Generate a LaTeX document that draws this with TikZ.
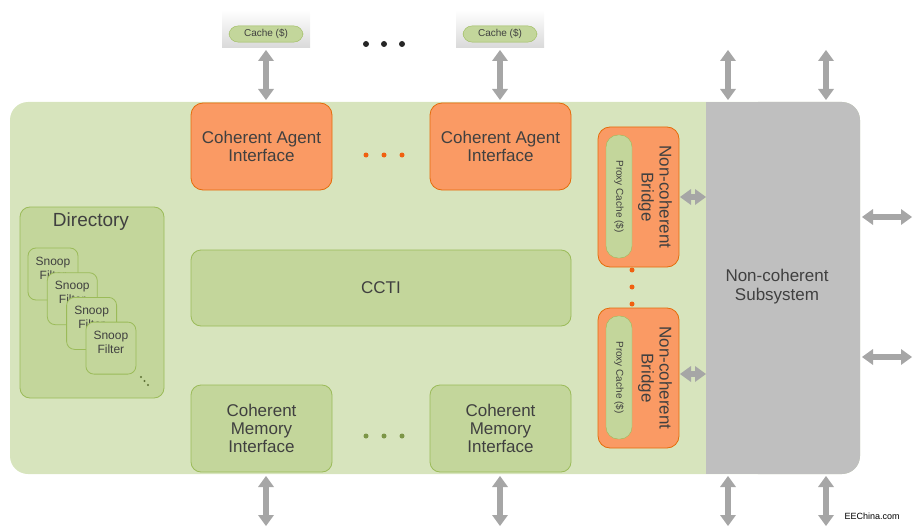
\documentclass[tikz,border=0pt]{standalone}
\usepackage{fontspec}
\setmainfont{Liberation Sans}
\usetikzlibrary{arrows.meta}
\definecolor{PaleGreen}{HTML}{D7E4BD}
\definecolor{BoxGreen}{HTML}{C3D69B}
\definecolor{EdgeGreen}{HTML}{9BBB59}
\definecolor{BoxOrange}{HTML}{FA9A64}
\definecolor{EdgeOrange}{HTML}{E46C0A}
\definecolor{DotOrange}{HTML}{F06010}
\definecolor{SubGray}{HTML}{BFBFBF}
\definecolor{ArrGray}{HTML}{A6A6A6}
\definecolor{TextGray}{HTML}{404040}
\tikzset{
  greenbox/.style={draw=EdgeGreen,fill=BoxGreen,rounded corners=10pt,thick,text=TextGray,align=center,font=\fontsize{17}{18}\selectfont},
  orangebox/.style={draw=EdgeOrange,fill=BoxOrange,rounded corners=12pt,thick,text=TextGray,align=center,font=\fontsize{17}{18}\selectfont},
  pill/.style={draw=EdgeGreen,fill=BoxGreen,rounded corners=9pt,text=TextGray,font=\fontsize{10}{11}\selectfont},
  dbl/.style={draw=none,fill=ArrGray},
}
\newcommand{\vdbl}[3]{% x, y1, y2
  \fill[ArrGray] (#1-3,#2+9) rectangle (#1+3,#3-9);
  \fill[ArrGray] (#1,#2) -- (#1+8,#2+11) -- (#1-8,#2+11) -- cycle;
  \fill[ArrGray] (#1,#3) -- (#1+8,#3-11) -- (#1-8,#3-11) -- cycle;}
\newcommand{\hdbl}[3]{% y, x1, x2
  \fill[ArrGray] (#2+9,#1-3) rectangle (#3-9,#1+3);
  \fill[ArrGray] (#2,#1) -- (#2+11,#1+8) -- (#2+11,#1-8) -- cycle;
  \fill[ArrGray] (#3,#1) -- (#3-11,#1+8) -- (#3-11,#1-8) -- cycle;}
\begin{document}
\begin{tikzpicture}[x=1pt,y=-1pt]
  \useasboundingbox (0,0) rectangle (915,532);

  % background and subsystem
  \fill[PaleGreen,rounded corners=18pt] (10,102) rectangle (860,474);
  \fill[SubGray,rounded corners=18pt] (740,102) rectangle (860,474);
  \fill[SubGray] (706,102) rectangle (760,474);
  \node[text=TextGray,align=center,font=\fontsize{17}{19}\selectfont] (sub) at (777,287) {Non-coherent\\Subsystem};

  % caches
  \foreach \cx/\nm in {266/ca,500/cb}{%
    \shade[top color=white,bottom color=SubGray!60] (\cx-44,10) rectangle (\cx+44,48);
    \node[pill,minimum width=74pt,minimum height=16pt] (\nm) at (\cx,34) {Cache (\$)};
  }
  \foreach \dx in {366,384,402}{\fill[black!85] (\dx,44) circle (3);}

  % arrows
  \foreach \ax in {266,500,728,826}{%
    \vdbl{\ax}{50}{100}
    \vdbl{\ax}{476}{526}
  }
  \foreach \ay in {217,357}{\hdbl{\ay}{862}{912}}
  \foreach \ay in {197,374}{\hdbl{\ay}{680}{706}}

  % agent and memory interfaces
  \node[orangebox,minimum width=141pt,minimum height=87pt] (cai1) at (261.5,146.5) {Coherent Agent\\Interface};
  \node[orangebox,minimum width=141pt,minimum height=87pt] (cai2) at (500.5,146.5) {Coherent Agent\\Interface};
  \node[greenbox,minimum width=380pt,minimum height=76pt] (ccti) at (381,288) {CCTI};
  \node[greenbox,minimum width=141pt,minimum height=87pt] (cmi1) at (261.5,428.5) {Coherent\\Memory\\Interface};
  \node[greenbox,minimum width=141pt,minimum height=87pt] (cmi2) at (500.5,428.5) {Coherent\\Memory\\Interface};
  \foreach \dx in {366,384,402}{%
    \fill[DotOrange] (\dx,155) circle (2.5);
    \fill[EdgeGreen!80!black] (\dx,436) circle (2.5);
  }

  % directory
  \node[greenbox,minimum width=144pt,minimum height=191pt] (dir) at (92,302.5) {};
  \node[text=TextGray,font=\fontsize{19}{20}\selectfont] (dirt) at (91,222) {Directory};
  \foreach \i in {0,1,2,3}{%
    \node[greenbox,rounded corners=8pt,minimum width=50pt,minimum height=52pt,text depth=12pt,
      font=\fontsize{12}{14}\selectfont,inner sep=1pt] (sf\i) at (53+19.3*\i,274+24.7*\i) {Snoop\\Filter};
  }
  \foreach \j in {0,1,2}{\fill[EdgeGreen!60!black] (141+3.5*\j,377+4*\j) circle (1.2);}

  % bridges
  \foreach \by/\nm in {197/nb1,378/nb2}{%
    \node[orangebox,minimum width=81pt,minimum height=140pt] (\nm) at (638.5,\by) {};
    \node[pill,rotate=-90,minimum width=123pt,minimum height=26pt,rounded corners=12pt] (\nm p) at (619,\by-0.5) {Proxy Cache (\$)};
    \node[rotate=-90,text=TextGray,align=center,font=\fontsize{17}{18}\selectfont] (\nm t) at (655,\by) {Non-coherent\\Bridge};
  }
  \foreach \dy in {270,287,304}{\fill[DotOrange] (632,\dy) circle (2.5);}

  \node[font=\small] (src) at (872,516) {EEChina.com};
\end{tikzpicture}
\end{document}
